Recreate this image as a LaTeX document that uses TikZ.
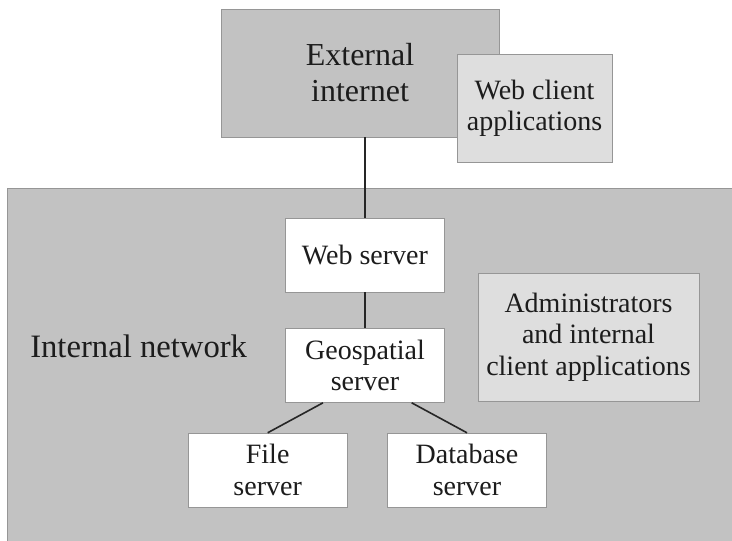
\documentclass[tikz,border=0pt]{standalone}
\usepackage{fontspec}
\setmainfont{Liberation Serif}
\usetikzlibrary{positioning,calc}
\definecolor{zonegray}{RGB}{194,194,194}
\definecolor{palegray}{RGB}{222,222,222}
\definecolor{rimgray}{RGB}{150,150,150}
\definecolor{inkgray}{RGB}{28,28,28}

\begin{document}
\begin{tikzpicture}[
      x=0.75pt, y=-0.75pt,
      node distance=27pt,
      zone/.style={draw=rimgray, fill=zonegray, thin, align=center, inner sep=0pt,
                   text=inkgray, font=\fontsize{24}{27}\selectfont},
      client/.style={draw=rimgray, fill=palegray, thin, align=center, inner sep=0pt,
                   text=inkgray, font=\fontsize{21}{23.5}\selectfont},
      srvbox/.style={draw=rimgray, fill=white, thin, align=center, inner sep=0pt,
                   text=inkgray, minimum width=119pt, minimum height=55.5pt,
                   font=\fontsize{21}{23.5}\selectfont},
      link/.style={line width=1.2pt, draw=black!85}
    ]
      \useasboundingbox (0,0) rectangle (732,541);
      \fill[white] (0,0) rectangle (732,541);
      % internal network zone
      \fill[zonegray] (7,188) rectangle (732,541);
      \draw[rimgray, thin] (7,541) -- (7,188) -- (732,188);
      \node[anchor=base west, inner sep=0pt, text=inkgray, font=\fontsize{24.5}{27}\selectfont] (lan) at (30,358) {Internal network};

      \node[zone, minimum width=208.5pt, minimum height=96pt] (ext) at (360,73) {External\\internet};
      \node[client, minimum width=116pt, minimum height=81pt] (wcl) at (534.5,108) {Web client\\applications};
      \node[srvbox] (web) at (365,255) {Web server};
      \node[srvbox, below=of web] (geo) {Geospatial\\server};
      \node[srvbox, below=22.5pt of geo, xshift=-73pt] (file) {File\\server};
      \node[srvbox, below=22.5pt of geo, xshift=76.5pt] (db) {Database\\server};
      \node[client, minimum width=166pt, minimum height=96pt] (adm) at (588.5,337) {Administrators\\and internal\\client applications};

      \draw[link] (web.north) -- (web.north |- ext.south);
      \draw[link] (web) -- (geo);
      \draw[link] ($(geo.south)+(-31.5pt,0)$) -- (file.north);
      \draw[link] ($(geo.south)+(35pt,0)$) -- (db.north);
    \end{tikzpicture}
\end{document}
